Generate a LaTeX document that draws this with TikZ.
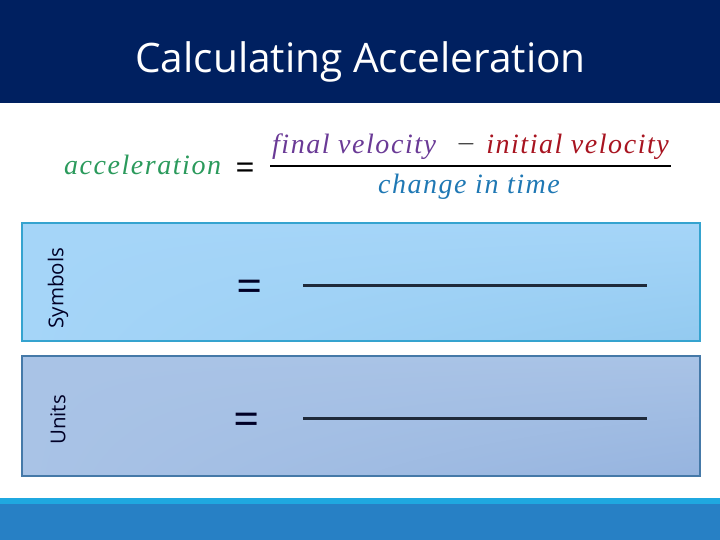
\documentclass[tikz,border=0pt]{standalone}
\usepackage{fontspec}
\setmainfont{Open Sans}
\newfontfamily\formulafont[LetterSpace=5.5]{Liberation Serif}
\usetikzlibrary{positioning,shadings}
\definecolor{headerblue}{HTML}{002060}
\definecolor{footerblue}{HTML}{2780C5}
\definecolor{footerlight}{HTML}{1FA8E0}
\definecolor{accgreen}{HTML}{2B9A5C}
\definecolor{finalpurple}{HTML}{6A3A96}
\definecolor{initred}{HTML}{A81420}
\definecolor{timeblue}{HTML}{1F78B4}
\definecolor{symbolsedge}{HTML}{35A3CF}
\definecolor{unitsedge}{HTML}{4579A8}
\definecolor{rulegray}{HTML}{1F2A3A}
\definecolor{symbolsfill}{HTML}{A5D5F8}
\definecolor{symbolsdark}{HTML}{93CAF0}
\definecolor{unitsfill}{HTML}{A9C3E6}
\definecolor{unitsdark}{HTML}{96B4DF}
\tikzset{
  formula/.style={font=\formulafont\itshape\fontsize{28}{28}\selectfont,inner sep=0pt},
  panel/.style={draw,line width=2pt,minimum width=678pt,minimum height=118pt,inner sep=0pt},
  sidelabel/.style={rotate=90,font=\fontsize{20.5}{20.5}\selectfont,text=black!85!blue,inner sep=0pt},
  eqsign/.style={font=\fontsize{46}{46}\selectfont,text=black!85!blue,inner sep=0pt},
  blankline/.style={draw=rulegray,line width=3pt}
}
\begin{document}
\begin{tikzpicture}[x=1pt,y=-1pt]
  \useasboundingbox (0,0) rectangle (720,540);
  % header and footer
  \fill[headerblue] (0,0) rectangle (720,103);
  \fill[footerlight] (0,498) rectangle (720,504);
  \fill[footerblue] (0,504) rectangle (720,540);
  \node[text=white,font=\fontsize{40.6}{40.6}\selectfont,inner sep=0pt,anchor=base] (title) at (360.5,73) {Calculating Acceleration};

  % formula
  \node[formula,text=accgreen,anchor=base west] (acc) at (64,175) {acceleration};
  \node[font=\fontsize{34}{34}\selectfont,inner sep=0pt] (eqtop) at (245,171) {=};
  \coordinate (fracL) at (270,166);
  \coordinate (fracR) at (671,166);
  \draw[line width=1.8pt] (fracL) -- (fracR);
  \node[formula,text=finalpurple,anchor=base west] (final) at (272,154) {final velocity};
  \node[font=\fontsize{25}{25}\selectfont,inner sep=0pt] (minus) at (466,144) {$-$};
  \node[formula,text=initred,anchor=base east] (initial) at (669,154) {initial velocity};
  \node[formula,text=timeblue,anchor=base] (time) at (469,194) {change in time};

  % panels
  \node[panel,draw=symbolsedge,upper left=symbolsfill,upper right=symbolsfill,
        lower left=symbolsfill,lower right=symbolsdark] (symbols) at (360.5,282) {};
  \node[panel,draw=unitsedge,minimum height=120pt,upper left=unitsfill,upper right=unitsfill,
        lower left=unitsfill,lower right=unitsdark] (units) at (360.5,416) {};

  \node[sidelabel] (symlabel) at (58,288) {Symbols};
  \node[sidelabel] (unitlabel) at (58,420) {Units};
  \node[eqsign] (eqsym) at (249.5,291) {=};
  \node[eqsign] (equnit) at (246.5,424) {=};
  \coordinate (symL) at (303,285);
  \coordinate (symR) at (647,285);
  \coordinate (unitL) at (303,418);
  \coordinate (unitR) at (647,418);
  \draw[blankline] (symL) -- (symR);
  \draw[blankline] (unitL) -- (unitR);
\end{tikzpicture}
\end{document}
